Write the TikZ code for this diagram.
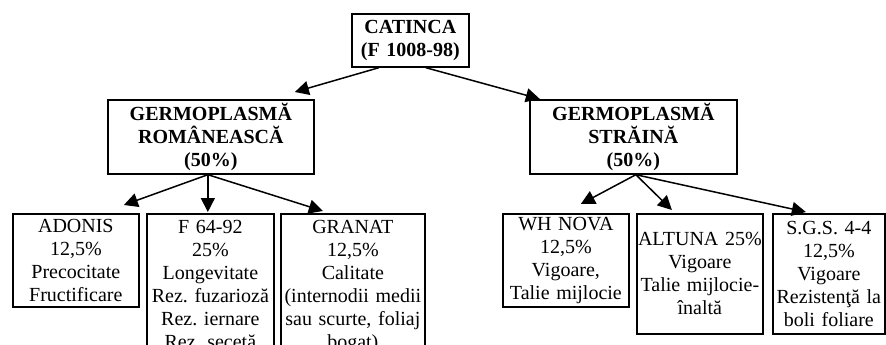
\documentclass[tikz,border=0pt]{standalone}
\usepackage{fontspec}
\setmainfont{Liberation Serif}
\usetikzlibrary{arrows.meta}
\frenchspacing
\begin{document}
\begin{tikzpicture}[x=1pt,y=-1pt,
  bx/.style={draw,line width=1.7pt,anchor=north west,inner xsep=1pt,inner ysep=0pt,
    align=center,font=\fontsize{20}{23}\selectfont\frenchspacing},
  topbx/.style={bx,font=\fontsize{20}{23}\selectfont\bfseries},
  cutbx/.style={bx,inner ysep=6.6pt},
  arr/.style={-{Triangle[length=14pt,width=14pt]},line width=1.5pt}]
\useasboundingbox (0,0) rectangle (886,345);
\fill[white] (0,0) rectangle (886,345);
\clip (0,0) rectangle (886,345);

\node[topbx,minimum width=117pt,text width=115pt,minimum height=53pt] (cat) at (351,13) {CATINCA\\(F 1008-98)};
\node[topbx,minimum width=206pt,text width=204pt,minimum height=74pt] (ro) at (107,99) {GERMOPLASMĂ\\ROMÂNEASCĂ\\(50\%)};
\node[topbx,minimum width=207pt,text width=205pt,minimum height=74pt] (st) at (529,99) {GERMOPLASMĂ\\STRĂINĂ\\(50\%)};

\node[bx,minimum width=126pt,text width=124pt,minimum height=93pt] (ado) at (12,213) {ADONIS\\12,5\%\\Precocitate\\Fructificare};
\node[cutbx,minimum width=127pt,text width=125pt] (f64) at (146,213) {F 64-92\\25\%\\Longevitate\\Rez. fuzarioză\\Rez. iernare\\Rez. secetă};
\node[cutbx,minimum width=144pt,text width=142pt] (gra) at (280,213) {GRANAT\\12,5\%\\Calitate\\(internodii medii\\sau scurte, foliaj\\bogat)};

\node[bx,minimum width=126pt,text width=124pt,minimum height=93pt] (wh) at (502,213) {WH NOVA\\12,5\%\\Vigoare,\\Talie mijlocie};
\node[bx,minimum width=126pt,text width=124pt,minimum height=120pt] (alt) at (636,213) {ALTUNA 25\%\\Vigoare\\Talie mijlocie-\\înaltă};
\node[bx,minimum width=112pt,text width=110pt,minimum height=120pt] (sgs) at (772,213) {S.G.S. 4-4\\12,5\%\\Vigoare\\Rezistenţă la\\boli foliare};

\draw[arr] ([xshift=-31.5pt]cat.south) -- ([xshift=84pt,yshift=7pt]ro.north);
\draw[arr] ([xshift=15.5pt]cat.south) -- ([xshift=-93.5pt]st.north);

\draw[arr] ([xshift=-3pt]ro.south) -- ([xshift=48pt,yshift=8pt]ado.north);
\draw[arr] ([xshift=-3pt]ro.south) -- ([xshift=-2.5pt,yshift=1pt]f64.north);
\draw[arr] ([xshift=-3pt]ro.south) -- ([xshift=-30pt,yshift=2pt]gra.north);

\draw[arr] ([xshift=2.5pt]st.south) -- ([xshift=15pt,yshift=9pt]wh.north);
\draw[arr] ([xshift=2.5pt]st.south) -- ([xshift=-28pt,yshift=3pt]alt.north);
\draw[arr] ([xshift=2.5pt]st.south) -- ([xshift=-23pt,yshift=1pt]sgs.north);
\end{tikzpicture}
\end{document}
